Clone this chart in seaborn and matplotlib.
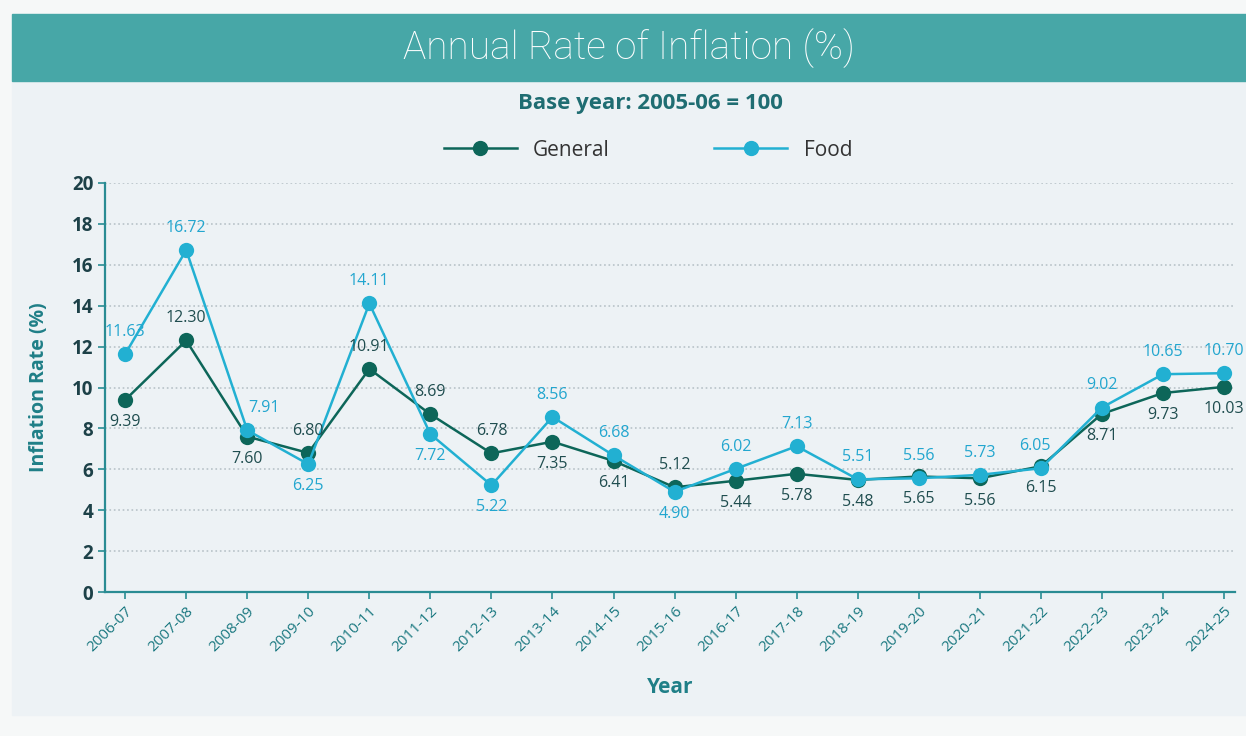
import pandas as pd
import matplotlib
matplotlib.use('Agg')
import matplotlib.pyplot as plt
from matplotlib.patches import Rectangle
from matplotlib.lines import Line2D
import seaborn as sns

# Dados
anos = ['2006-07', '2007-08', '2008-09', '2009-10', '2010-11', '2011-12', '2012-13',
        '2013-14', '2014-15', '2015-16', '2016-17', '2017-18', '2018-19', '2019-20',
        '2020-21', '2021-22', '2022-23', '2023-24', '2024-25']
geral = [9.39, 12.30, 7.60, 6.80, 10.91, 8.69, 6.78, 7.35, 6.41, 5.12,
         5.44, 5.78, 5.48, 5.65, 5.56, 6.15, 8.71, 9.73, 10.03]
alimentos = [11.63, 16.72, 7.91, 6.25, 14.11, 7.72, 5.22, 8.56, 6.68, 4.90,
             6.02, 7.13, 5.51, 5.56, 5.73, 6.05, 9.02, 10.65, 10.70]

# posicao dos rotulos: 1 = acima, -1 = abaixo
pos_geral = [-1, 1, -1, 1, 1, 1, 1, -1, -1, 1, -1, -1, -1, -1, -1, -1, -1, -1, -1]
pos_alim = [1, 1, 1, -1, 1, -1, -1, 1, 1, -1, 1, 1, 1, 1, 1, 1, 1, 1, 1]
# deslocamento horizontal (pontos) dos rotulos de alimentos
dx_alim = [0, 0, 12, 0, 0, 0, 0, 0, 0, 0, 0, 0, 0, 0, 0, -4, 0, 0, 0]

cor_geral = '#0d6659'
cor_alim = '#22b0d2'
cor_eixo = '#2a8c93'
cor_texto = '#1d4148'

df = pd.DataFrame({
    'Year': anos * 2,
    'Rate': geral + alimentos,
    'Series': ['General'] * len(anos) + ['Food'] * len(anos),
})

fig = plt.figure(figsize=(12.46, 7.36), dpi=100, facecolor='#f6f8f8')

# painel e faixa do titulo
fig.patches.append(Rectangle((12 / 1246, 1 - 715 / 736), 1 - 12 / 1246, (715 - 81) / 736,
                             transform=fig.transFigure, color='#edf2f5', zorder=-5))
fig.patches.append(Rectangle((12 / 1246, 1 - 81 / 736), 1 - 12 / 1246, (81 - 14) / 736,
                             transform=fig.transFigure, color='#47a7a7', zorder=-5))
fig.text(0.505, 1 - 48 / 736, 'Annual Rate of Inflation (%)', ha='center', va='center',
         color='white', fontsize=28, family='Roboto', fontweight='light')
fig.text(0.522, 1 - 104 / 736, 'Base year: 2005-06 = 100', ha='center', va='center',
         color='#1f6d72', fontsize=16, fontweight='bold', family='Open Sans')

ax = fig.add_axes([105 / 1246, 1 - 592 / 736, (1235 - 105) / 1246, (592 - 183) / 736])
ax.set_facecolor('none')

sns.lineplot(data=df, x='Year', y='Rate', hue='Series', palette={'General': cor_geral, 'Food': cor_alim},
             marker='o', markersize=11, markeredgewidth=0, linewidth=1.8, ax=ax, legend=False, sort=False)

# rotulos de dados
for ano, v, p in zip(anos, geral, pos_geral):
    ax.annotate(f'{v:.2f}', (ano, v), xytext=(0, 16 * p), textcoords='offset points',
                ha='center', va='center', fontsize=11.5, color='#1f4d4f', family='Open Sans')
for ano, v, p, d in zip(anos, alimentos, pos_alim, dx_alim):
    ax.annotate(f'{v:.2f}', (ano, v), xytext=(d, 16 * p), textcoords='offset points',
                ha='center', va='center', fontsize=11.5, color='#22a6cf', family='Open Sans')

ax.set_ylim(0, 20)
ax.set_xlim(-0.33, 18.18)
ax.set_yticks(range(0, 21, 2))
ax.yaxis.grid(True, linestyle=':', color='#b8c2c8', linewidth=1.2)
ax.set_axisbelow(True)
for s in ['top', 'right']:
    ax.spines[s].set_visible(False)
for s in ['left', 'bottom']:
    ax.spines[s].set_color(cor_eixo)
    ax.spines[s].set_linewidth(1.6)
ax.tick_params(axis='both', colors=cor_eixo, length=5, width=1.2)
ax.tick_params(axis='y', labelcolor=cor_texto, labelsize=13.5)
plt.setp(ax.get_yticklabels(), fontweight='bold', family='Open Sans')
ax.tick_params(axis='x', labelcolor='#1a7880', labelsize=11)
plt.setp(ax.get_xticklabels(), rotation=45, ha='right', rotation_mode='anchor', family='Open Sans')

ax.set_xlabel('Year', fontsize=15, fontweight='bold', color='#1f7f87', family='Open Sans', labelpad=16)
ax.set_ylabel('Inflation Rate (%)', fontsize=14, fontweight='bold', color='#1f7f87', family='Open Sans', labelpad=16)

# legenda
handles = [Line2D([], [], color=cor_geral, marker='o', markersize=10, linewidth=1.8),
           Line2D([], [], color=cor_alim, marker='o', markersize=10, linewidth=1.8)]
fig.legend(handles, ['General', 'Food'], loc='center', bbox_to_anchor=(0.52, 1 - 150 / 736), ncol=2,
           frameon=False, handlelength=3.5, columnspacing=5, labelcolor='#333333',
           prop={'family': 'Open Sans', 'size': 15})

fig.savefig('out.png', dpi=100, facecolor=fig.get_facecolor())
